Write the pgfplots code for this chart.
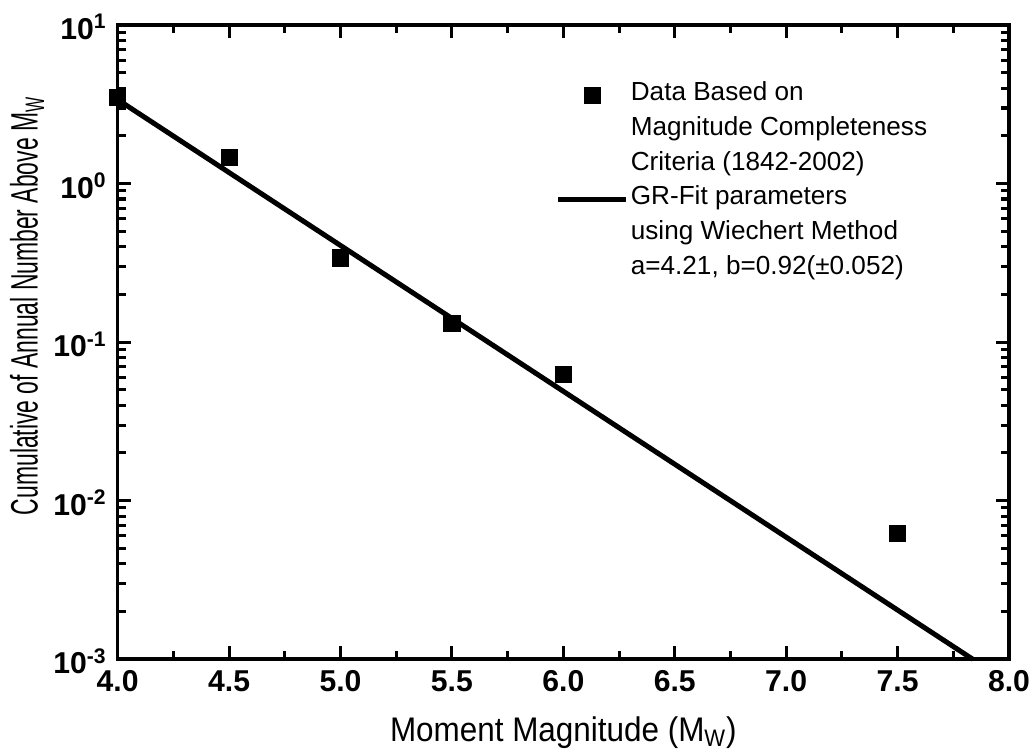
\documentclass[border=0pt]{standalone}
\usepackage{graphicx}
\usepackage{fontspec}
\setmainfont{Liberation Sans}
\usepackage{pgfplots}
\pgfplotsset{compat=1.18}
\pgfplotsset{
    markleg/.style={legend image code/.code={\draw[##1] plot coordinates {(17pt,0pt)};}},
    lineleg/.style={legend image code/.code={\draw[##1] (0pt,0pt) -- (34pt,0pt);}},
}

\begin{document}
\begin{tikzpicture}
\begin{axis}[
    name=ax,
    scale only axis,
    width=443.5pt, height=315.5pt,
    ymode=log, log basis y=10,
    xmin=4, xmax=8, ymin=1e-3, ymax=1e1,
    xtick={4,4.5,...,8}, minor x tick num=1,
    /pgf/number format/.cd, fixed, fixed zerofill, precision=1, assume math mode=true,
    /pgfplots/.cd,
    yticklabel={\textbf{10\textsuperscript{\pgfmathparse{int(round(\tick))}\pgfmathresult}}},
    tick label style={font=\bfseries\fontsize{15}{15}\selectfont},
    xticklabel style={yshift=-2pt, inner xsep=0pt},
    yticklabel style={xshift=-2pt, yshift=-1pt},
    axis line style={line width=1.75pt},
    every tick/.style={black, line width=1.5pt},
    major tick length=6.5pt, minor tick length=4pt,
    tick align=inside,
    xlabel={\scalebox{0.92}[1]{Moment Magnitude (M\textsubscript{W})}},
    ylabel={\scalebox{0.6}[1]{\fontsize{19}{19}\selectfont Cumulative of Annual Number Above M\textsubscript{W}}},
    label style={font=\fontsize{17}{17}\selectfont, inner sep=0pt},
    xlabel style={at={(ticklabel cs:0.5,9pt)}, anchor=north},
    ylabel style={at={(ticklabel cs:0.557,1pt)}, anchor=south},
    clip=false,
    legend cell align=left,
    legend style={draw=none, fill=none, at={(0.484,0.915)}, anchor=north west,
        font=\fontsize{13}{13}\selectfont, row sep=5.3pt,
        nodes={inner sep=1pt, text height=0.75em, text depth=0.25em}},
]
\addplot[only marks, mark=square*, mark size=4pt, black, markleg]
    coordinates {
    (4.0, 3.5) (4.5, 1.46) (5.0, 0.34) (5.5, 0.132) (6.0, 0.063) (7.5, 0.0062)
};
\addlegendentry{Data Based on}
\addlegendimage{empty legend}
\addlegendentry{Magnitude Completeness}
\addlegendimage{empty legend}
\addlegendentry{Criteria (1842-2002)}
\addplot[black, line width=2.5pt, no marks, lineleg]
    coordinates {(4.0, 3.388) (7.837, 0.001)};
\addlegendentry{GR-Fit parameters}
\addlegendimage{empty legend}
\addlegendentry{using Wiechert Method}
\addlegendimage{empty legend}
\addlegendentry{a=4.21, b=0.92(±0.052)}
\end{axis}
\path (ax.north) ++(0,12.5pt);
\path (ax.outer west) ++(-5pt,0);
\path (ax.outer south) ++(0,-1pt);
\path (ax.outer east) ++(2pt,0);
\end{tikzpicture}
\end{document}
